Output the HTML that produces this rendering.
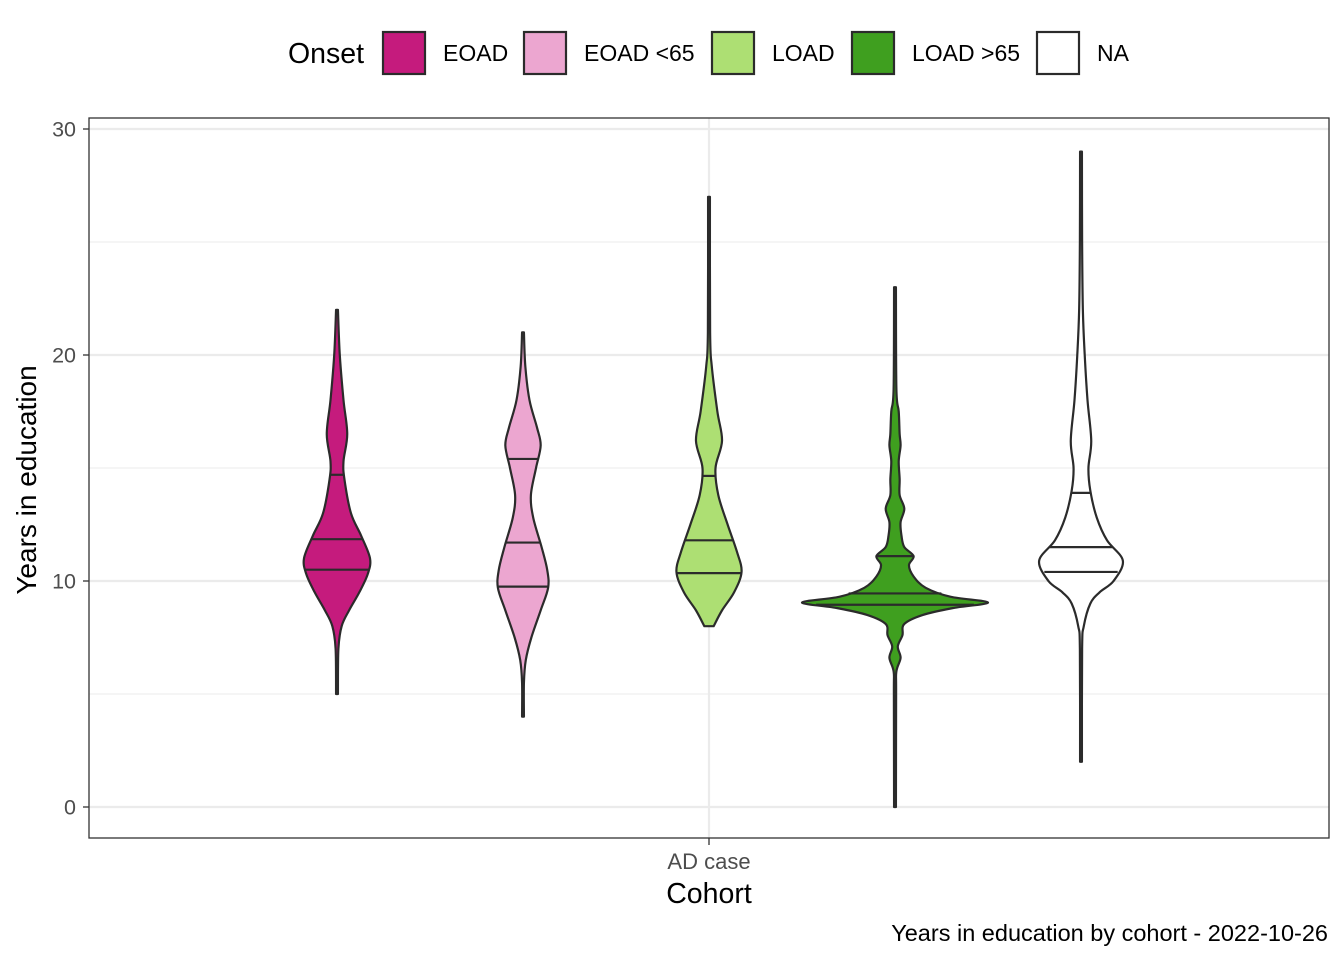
<!DOCTYPE html>
<html><head><meta charset="utf-8"><style>
body{margin:0;background:#fff;font-family:"Liberation Sans",Arial,sans-serif}
svg text{font-family:"Liberation Sans",Arial,sans-serif}
</style></head><body>
<svg id="chart" width="1344" height="960" xmlns="http://www.w3.org/2000/svg">
<rect width="1344" height="960" fill="#fff"/>
<g id="grid"></g>
<g id="violins"></g>
<rect x="89" y="118" width="1240" height="720" fill="none" stroke="#333" stroke-width="1.3"/>
<g id="axes"></g>
<g id="legend"></g>
<text x="27" y="480" transform="rotate(-90 27 480)" text-anchor="middle" font-size="28" fill="#000" dy="9">Years in education</text>
<text x="709" y="903" text-anchor="middle" font-size="28.5" fill="#000">Cohort</text>
<text x="1328" y="941" text-anchor="end" font-size="23.5" fill="#000">Years in education by cohort - 2022-10-26</text>
</svg>
<script>
const groups=["EOAD","EOAD <65","LOAD","LOAD >65","NA"];
const colors=["#c51b7d","#eca6d0","#addf73","#3f9f1f","#ffffff"];
const yTicks=[0,10,20,30];
const categories=["AD case"];
// density profiles: [years, scaled density (1 = max width)]
const dEOAD=[[22,0.01],[20,0.03],[18,0.07],[16.5,0.11],[15.3,0.07],[14.5,0.08],[13,0.15],[12,0.26],[11,0.355],[10.3,0.33],[9.5,0.24],[8.7,0.13],[8,0.05],[7,0.015],[5,0.01]];
const dEOAD65=[[21,0.01],[19.5,0.025],[18,0.07],[16.8,0.15],[16,0.19],[15,0.14],[13.8,0.085],[12.8,0.11],[11.5,0.2],[10.5,0.26],[9.7,0.27],[8.7,0.19],[7.5,0.09],[6.5,0.03],[5.5,0.01],[4,0.01]];
const dLOAD=[[27,0.01],[21,0.012],[19.5,0.03],[17.5,0.09],[16.2,0.14],[15,0.07],[13.8,0.1],[12.5,0.2],[11.3,0.3],[10.4,0.35],[9.5,0.27],[8.7,0.14],[8,0.05]];
const dLOAD65=[[23,0.01],[18.5,0.015],[17.5,0.04],[16.5,0.05],[16,0.06],[15.3,0.04],[14.5,0.05],[13.8,0.05],[13.2,0.1],[12.6,0.06],[12,0.07],[11.5,0.1],[11.1,0.2],[10.7,0.15],[10.2,0.2],[9.7,0.33],[9.3,0.6],[9.05,1.0],[8.8,0.62],[8.5,0.3],[8.1,0.1],[7.6,0.08],[7.1,0.03],[6.6,0.06],[6,0.015],[5,0.012],[0,0.01]];
const dNA=[[29,0.01],[25,0.012],[22,0.02],[20,0.04],[18,0.07],[16.2,0.11],[15,0.08],[14,0.1],[12.8,0.17],[11.8,0.28],[10.9,0.45],[10,0.35],[9.5,0.2],[9,0.1],[8,0.03],[7,0.012],[2,0.01]];
const densities=[dEOAD,dEOAD65,dLOAD,dLOAD65,dNA];
const quartiles=[[10.5,11.85,14.7],[9.75,11.7,15.4],[10.35,11.8,14.65],[8.95,9.45,11.1],[10.4,11.5,13.9]];

const ns="http://www.w3.org/2000/svg";
function y(v){return 807-v*(807-129)/30;}
function gx(i){return 337+i*186;}
const maxHalf=93;
function w(d){return d*maxHalf;}
function mk(t,a,p){const e=document.createElementNS(ns,t);for(const k in a)e.setAttribute(k,a[k]);p.appendChild(e);return e;}
const grid=document.getElementById('grid');
for(let v=0;v<=30;v+=5){
  const l=mk('line',{x1:89,x2:1329,y1:y(v),y2:y(v),stroke:'#ebebeb','stroke-width':v%10==0?2.2:1.1},grid);
  
  
}
const vl=mk('line',{x1:709,x2:709,y1:118,y2:838,stroke:'#ebebeb','stroke-width':2.2},grid);


const axes=document.getElementById('axes');
yTicks.forEach(v=>{
  mk('line',{x1:83,x2:89,y1:y(v),y2:y(v),stroke:'#333','stroke-width':1.3},axes);
  const t=mk('text',{x:76,y:y(v)+7.5,'text-anchor':'end','font-size':21.5,fill:'#4d4d4d'},axes);
  t.textContent=v;
  
  
});
categories.forEach((c,i)=>{
  mk('line',{x1:709,x2:709,y1:838,y2:845,stroke:'#333','stroke-width':1.3},axes);
  const t=mk('text',{x:709,y:869,'text-anchor':'middle','font-size':22,fill:'#4d4d4d'},axes);
  t.textContent=c;
  
  
});
function smooth(pts){
  let d='M'+pts[0][0]+','+pts[0][1];
  for(let i=0;i<pts.length-1;i++){
    const p0=pts[Math.max(0,i-1)],p1=pts[i],p2=pts[i+1],p3=pts[Math.min(pts.length-1,i+2)];
    const c1=[p1[0]+(p2[0]-p0[0])/6,p1[1]+(p2[1]-p0[1])/6];
    const c2=[p2[0]-(p3[0]-p1[0])/6,p2[1]-(p3[1]-p1[1])/6];
    d+=' C'+c1[0]+','+c1[1]+' '+c2[0]+','+c2[1]+' '+p2[0]+','+p2[1];
  }
  return d;
}
function halfAt(dens,v){
  for(let i=0;i<dens.length-1;i++){const a=dens[i],b=dens[i+1];
    if(v<=a[0]&&v>=b[0]){const t=(a[0]-v)/(a[0]-b[0]);return w(a[1]+(b[1]-a[1])*t);}}
  return 0;
}
const vg=document.getElementById('violins');
densities.forEach((dens,i)=>{
  const cx=gx(i);
  const right=dens.map(p=>[cx+w(p[1]),y(p[0])]);
  const left=dens.map(p=>[cx-w(p[1]),y(p[0])]).reverse();
  const bot=y(dens[dens.length-1][0]);
  const d=smooth(right)+' L'+(cx-w(dens[dens.length-1][1]))+','+bot+' '+smooth(left).replace('M','L')+' Z';
  const g=mk('g',{},vg);
  
  
  mk('path',{d:d,fill:colors[i],stroke:'#2b2b2b','stroke-width':2.2,'stroke-linejoin':'round'},g);
  quartiles[i].forEach(q=>{
    const h=halfAt(dens,q);
    const l=mk('line',{x1:cx-h,x2:cx+h,y1:y(q),y2:y(q),stroke:'#2b2b2b','stroke-width':2.2},g);
    
    
  });
});
const lg=document.getElementById('legend');
const lt=mk('text',{x:288,y:63,'font-size':28.5,fill:'#000'},lg);
lt.textContent='Onset';


const keyX=[383,524,712,852,1037];
groups.forEach((g,i)=>{
  const e=mk('g',{},lg);
  
  
  mk('rect',{x:keyX[i],y:32,width:42,height:42,fill:colors[i],stroke:'#2b2b2b','stroke-width':2.2},e);
  const t=mk('text',{x:keyX[i]+60,y:61,'font-size':23,fill:'#000'},e);
  t.textContent=g;
});
</script>
</body></html>
